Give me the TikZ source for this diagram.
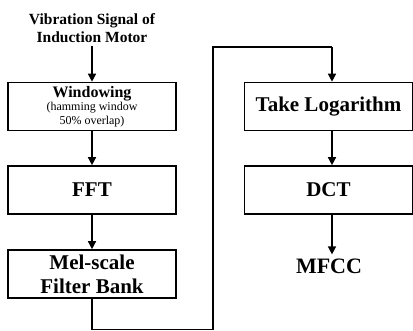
\documentclass[tikz,border=0pt]{standalone}
\usepackage{fontspec}
\setmainfont{Liberation Serif}
\usetikzlibrary{arrows.meta,calc}
\tikzset{
  stage/.style={draw, line width=1.6pt, minimum width=168pt, minimum height=48pt, inner sep=0pt, align=center, font=\bfseries\fontsize{21}{24}\selectfont},
  flow/.style={line width=1.4pt, -{Triangle[width=8pt,length=8pt]}},
  link/.style={line width=1.4pt}
}
\begin{document}
\begin{tikzpicture}[x=1pt,y=-1pt]
\useasboundingbox[fill=white] (0,0) rectangle (413,331);
\node[align=center, inner sep=0pt, font=\bfseries\fontsize{15.5}{18.5}\selectfont] (title) at (92,28) {Vibration Signal of\\Induction Motor};
\node[stage, font=\fontsize{12}{14}\selectfont] (win) at (92,106.5) {{\bfseries\fontsize{16}{16}\selectfont Windowing}\\[-1pt](hamming window\\50\% overlap)};
\node[stage] (fft) at (92,190) {FFT};
\node[stage, font=\bfseries\fontsize{21}{24}\selectfont] (mel) at (92,274) {Mel-scale\\Filter Bank};
\node[stage] (log) at (328.5,106.5) {Take Logarithm};
\node[stage] (dct) at (328.5,190) {DCT};
\node[inner sep=0pt, font=\bfseries\fontsize{22}{24}\selectfont] (mfcc) at (329,266) {MFCC};
\coordinate (b1) at (92,329.5);
\coordinate (b2) at (213,329.5);
\coordinate (t1) at (213,47);
\coordinate (t2) at (332,47);
\draw[flow] (92,46) -- (win.north);
\draw[flow] (win.south) -- (fft.north);
\draw[flow] (fft.south) -- (mel.north);
\draw[link] (mel.south) -- (b1) -- (b2) -- (t1) -- (t2);
\draw[flow] (t2) -- (t2 |- log.north);
\draw[flow] ($(log.south)+(3.5,0)$) -- ($(dct.north)+(3.5,0)$);
\draw[flow] ($(dct.south)+(3.5,0)$) -- ($(mfcc.north)+(3,-4)$);
\end{tikzpicture}
\end{document}
